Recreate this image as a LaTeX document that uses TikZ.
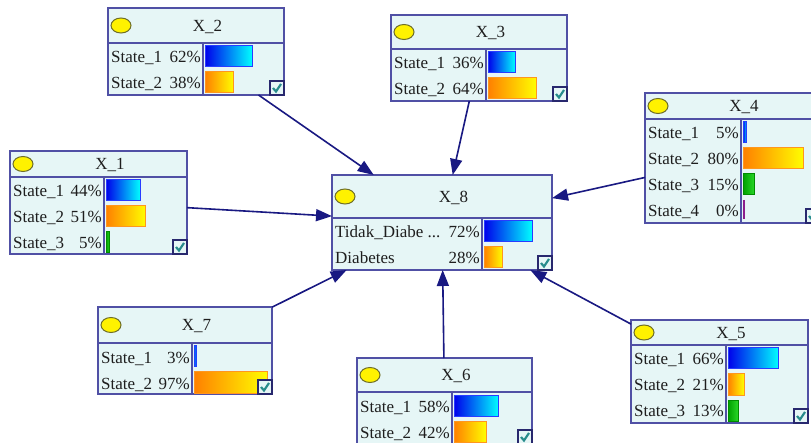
\documentclass[tikz,border=0pt]{standalone}
\usepackage{fontspec}
\setmainfont{Liberation Serif}
\usetikzlibrary{arrows.meta}
\definecolor{bnborder}{RGB}{80,80,165}
\definecolor{bnfill}{RGB}{230,246,246}
\definecolor{bnarrowc}{RGB}{25,25,130}
\definecolor{bnellborder}{RGB}{110,110,40}
\definecolor{bncheckc}{RGB}{40,140,140}
\definecolor{bncheckbox}{RGB}{40,40,110}
\definecolor{bntextc}{RGB}{30,30,30}
\definecolor{bluebarL}{RGB}{0,0,235}
\definecolor{bluebarR}{RGB}{0,255,255}
\definecolor{bluebarB}{RGB}{40,60,255}
\definecolor{orangebarL}{RGB}{255,128,0}
\definecolor{orangebarR}{RGB}{255,255,0}
\definecolor{orangebarB}{RGB}{255,150,30}
\definecolor{greenbarL}{RGB}{0,160,0}
\definecolor{greenbarR}{RGB}{40,215,40}
\definecolor{greenbarB}{RGB}{0,140,0}
\definecolor{purplebar}{RGB}{140,30,140}
\tikzset{
  bnbox/.style={rectangle, draw=bnborder, fill=bnfill, line width=1.3pt, inner sep=0pt, outer sep=0pt},
  bnline/.style={draw=bnborder, line width=1.3pt},
  bnell/.style={fill=yellow, draw=bnellborder, line width=1pt},
  bntitle/.style={inner sep=0pt, text=bntextc, font=\fontsize{17}{20}\selectfont},
  bntext/.style={inner sep=0pt, text=bntextc, font=\fontsize{17}{20}\selectfont},
  bluebar/.style={left color=bluebarL, right color=bluebarR, draw=bluebarB, line width=1pt},
  orangebar/.style={left color=orangebarL, right color=orangebarR, draw=orangebarB, line width=1pt},
  greenbar/.style={left color=greenbarL, right color=greenbarR, draw=greenbarB, line width=1pt},
  checkboxst/.style={draw=bncheckbox, fill=bnfill, line width=1.4pt},
  checkmarkst/.style={draw=bncheckc, line width=2.2pt},
  bnarrow/.style={draw=bnarrowc, line width=1.6pt, -{Triangle[length=16pt,width=12pt]}}
}
% name, x1, y1, x2, y2, header y, divider x, title
\newcommand{\bnbox}[8]{%
  \def\bnX{#2}\def\bnR{#4}\def\bnB{#5}\def\bnH{#6}\def\bnD{#7}%
  \node[bnbox, minimum width={(#4-#2)*1pt}, minimum height={(#5-#3)*1pt}] (#1) at ({(#2+#4)/2},{(#3+#5)/2}) {};
  \draw[bnline] (#2,#6) -- (#4,#6);
  \draw[bnline] (#7,#6) -- (#7,#5);
  \draw[bnell] ({#2+13},{(#3+#6)/2}) ellipse [x radius=10pt, y radius=7.5pt];
  \node[bntitle, anchor=base] (#1-title) at ({(#2+23+#4)/2},{(#3+#6)/2+5.8}) {#8};
}
% name, row index, label, pct text, pct value, bar style, scale
\newcommand{\bnrow}[7]{%
  \pgfmathsetmacro\bnyc{\bnH+13.5+26*#2}%
  \pgfmathsetmacro\bnbw{#5*#7/100}%
  \node[bntext, anchor=base west] (#1-l#2) at ({\bnX+3},{\bnyc+6.5}) {#3};
  \node[bntext, anchor=base east] (#1-p#2) at ({\bnD-2},{\bnyc+6.5}) {#4};
  \shadedraw[#6] ({\bnD+2},{\bnyc-10.5}) rectangle ({\bnD+2+\bnbw},{\bnyc+10.5});
}
\newcommand{\bncheck}{%
  \draw[checkboxst] ({\bnR-14},{\bnB-14}) rectangle (\bnR,\bnB);
  \draw[checkmarkst] ({\bnR-11},{\bnB-7}) -- ({\bnR-8},{\bnB-3.5}) -- ({\bnR-3},{\bnB-11});
}
\begin{document}
\begin{tikzpicture}[x=1pt, y=-1pt]
\useasboundingbox (0,0) rectangle (811,443);
\fill[white] (0,0) rectangle (811,443);
\clip (0,0) rectangle (811,443);

% X_2
\bnbox{X2}{108}{8}{284}{95}{43}{203}{X\_2}
\bnrow{X2}{0}{State\_1}{62\%}{62}{bluebar}{76}
\bnrow{X2}{1}{State\_2}{38\%}{38}{orangebar}{76}
\bncheck

% X_3
\bnbox{X3}{391}{15}{567}{101}{49}{486}{X\_3}
\bnrow{X3}{0}{State\_1}{36\%}{36}{bluebar}{76}
\bnrow{X3}{1}{State\_2}{64\%}{64}{orangebar}{76}
\bncheck

% X_4
\bnbox{X4}{645}{93}{820}{223}{119}{741}{X\_4}
\bnrow{X4}{0}{State\_1}{5\%}{5}{bluebar}{76}
\bnrow{X4}{1}{State\_2}{80\%}{80}{orangebar}{76}
\bnrow{X4}{2}{State\_3}{15\%}{15}{greenbar}{76}
\node[bntext, anchor=base west] (X4-l3) at ({645+3},{119+13.5+78+6.5}) {State\_4};
\node[bntext, anchor=base east] (X4-p3) at ({741-2},{119+13.5+78+6.5}) {0\%};
\draw[purplebar, line width=1.5pt] (744,200) -- (744,219);
\bncheck

% X_1
\bnbox{X1}{10}{151}{187}{254}{177}{104}{X\_1}
\bnrow{X1}{0}{State\_1}{44\%}{44}{bluebar}{78}
\bnrow{X1}{1}{State\_2}{51\%}{51}{orangebar}{78}
\bnrow{X1}{2}{State\_3}{5\%}{5}{greenbar}{78}
\bncheck

% X_8
\bnbox{X8}{332}{175}{552}{270}{218}{482}{X\_8}
\bnrow{X8}{0}{Tidak\_Diabe ...}{72\%}{72}{bluebar}{67}
\bnrow{X8}{1}{Diabetes}{28\%}{28}{orangebar}{67}
\bncheck

% X_7
\bnbox{X7}{98}{307}{272}{394}{343}{192}{X\_7}
\bnrow{X7}{0}{State\_1}{3\%}{3}{bluebar}{76}
\bnrow{X7}{1}{State\_2}{97\%}{97}{orangebar}{76}
\bncheck

% X_6
\bnbox{X6}{357}{358}{532}{444}{392}{452}{X\_6}
\bnrow{X6}{0}{State\_1}{58\%}{58}{bluebar}{77}
\bnrow{X6}{1}{State\_2}{42\%}{42}{orangebar}{77}
\bncheck

% X_5
\bnbox{X5}{631}{320}{808}{423}{345}{726}{X\_5}
\bnrow{X5}{0}{State\_1}{66\%}{66}{bluebar}{77}
\bnrow{X5}{1}{State\_2}{21\%}{21}{orangebar}{77}
\bnrow{X5}{2}{State\_3}{13\%}{13}{greenbar}{77}
\bncheck

% connectors
\draw[bnarrow] (X2) -- (X8);
\draw[bnarrow] (X3) -- (X8);
\draw[bnarrow] (X4) -- (X8);
\draw[bnarrow] (X1) -- (X8);
\draw[bnarrow] (X7) -- (X8);
\draw[bnarrow] (X6) -- (X8);
\draw[bnarrow] (X5) -- (X8);
\end{tikzpicture}
\end{document}
